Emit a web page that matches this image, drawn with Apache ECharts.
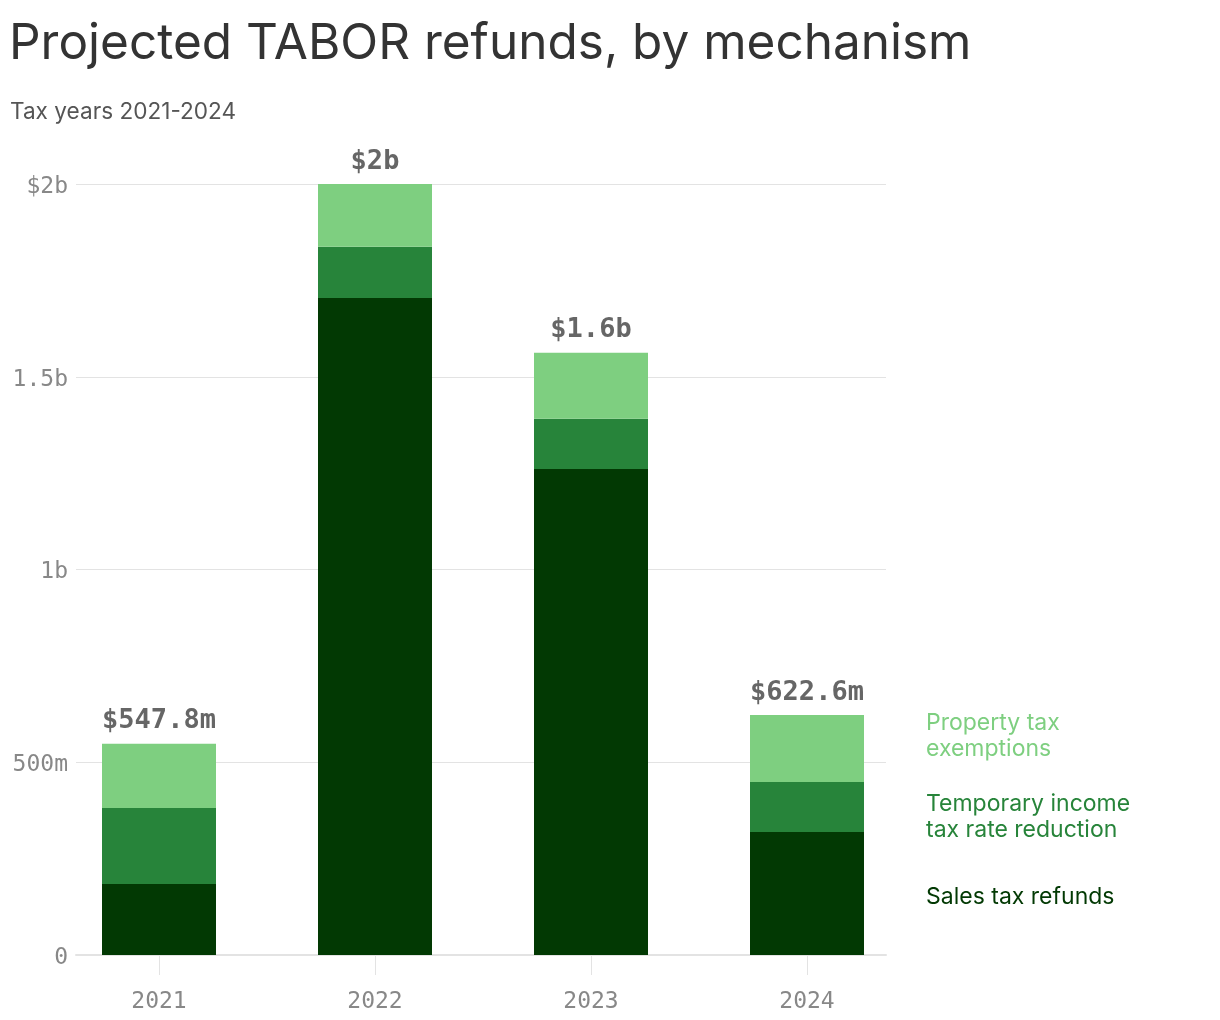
<!DOCTYPE html>
<html><head><meta charset="utf-8">
<script src="https://cdn.jsdelivr.net/npm/echarts@6/dist/echarts.min.js"></script>
<style>html,body{margin:0;padding:0;background:#fff}#c{width:1220px;height:1020px}</style>
</head><body><div id="c"></div>
<script>
const years = ['2021', '2022', '2023', '2024'];
const salesTax = [184, 1704, 1261, 319];
const incomeTax = [197, 133, 130, 130];
const propertyTax = [166.8, 163, 171, 173.6];
const totalLabels = ['$547.8m', '$2b', '$1.6b', '$622.6m'];
const yTickLabels = {0: '0', 500: '500m', 1000: '1b', 1500: '1.5b', 2000: '$2b'};
const seriesNames = ['Sales tax refunds', 'Temporary income\ntax rate reduction', 'Property tax\nexemptions'];
const colors = ['#023903', '#27843a', '#7ecf80'];

const mono = '"DejaVu Sans Mono", monospace';
const sans = 'Inter, "Noto Sans", sans-serif';

const legendOffsets = [[0, 4], [0, 10], [0, -12]];
function legendLabel(sIdx) {
  return {
    show: true,
    position: 'right',
    distance: 62,
    offset: legendOffsets[sIdx],
    color: colors[sIdx],
    fontFamily: sans,
    fontSize: 23,
    lineHeight: 26,
    formatter: (p) => p.dataIndex === years.length - 1 ? seriesNames[sIdx] : ''
  };
}
const base = {type: 'bar', stack: 'all', barWidth: 114, xAxisIndex: 0, yAxisIndex: 0, emphasis: {disabled: true}};
const series = [
  Object.assign({}, base, {name: seriesNames[0], data: salesTax, itemStyle: {color: colors[0]}, label: legendLabel(0)}),
  Object.assign({}, base, {name: seriesNames[1], data: incomeTax, itemStyle: {color: colors[1]}, label: legendLabel(1)}),
  Object.assign({}, base, {name: seriesNames[2], data: propertyTax, itemStyle: {color: colors[2]}, label: legendLabel(2)}),
  Object.assign({}, base, {name: 'total', data: years.map(() => 0), itemStyle: {color: 'transparent'}, silent: true,
   label: {show: true, position: 'top', distance: 9, fontFamily: mono, fontWeight: 'bold', fontSize: 27, color: '#666',
     formatter: (p) => totalLabels[p.dataIndex]}})
];

const chart = echarts.init(document.getElementById('c'));
chart.setOption({
  animation: false,
  title: [
    {text: 'Projected TABOR refunds, by mechanism', left: 4, top: 14,
     textStyle: {fontFamily: sans, fontSize: 49.5, fontWeight: 'normal', color: '#333'}},
    {text: 'Tax years 2021-2024', left: 5, top: 96,
     textStyle: {fontFamily: sans, fontSize: 22.6, fontWeight: 'normal', color: '#555'}}
  ],
  grid: [
    {left: 51, right: 1220 - 915, top: 184, bottom: 65, containLabel: false},
    {left: 76, right: 1220 - 886, top: 184, bottom: 65, containLabel: false}
  ],
  xAxis: [
    {type: 'category', gridIndex: 0, data: years,
     axisLine: {show: false},
     axisTick: {show: true, alignWithLabel: true, length: 20, lineStyle: {color: '#e3e3e3', width: 1}},
     axisLabel: {margin: 36, fontFamily: mono, fontSize: 23, color: '#888'}},
    {type: 'value', gridIndex: 1, min: 0, max: 1,
     splitLine: {show: false}, axisTick: {show: false}, axisLabel: {show: false},
     axisLine: {show: true, lineStyle: {color: '#e3e3e3', width: 2}}}
  ],
  yAxis: [
    {type: 'value', gridIndex: 0, min: 0, max: 2000, show: false, splitLine: {show: false}},
    {type: 'value', gridIndex: 1, min: 0, max: 2000, interval: 500,
     axisLine: {show: false}, axisTick: {show: false},
     splitLine: {lineStyle: {color: '#e3e3e3', width: 1}},
     axisLabel: {margin: 8, fontFamily: mono, fontSize: 23, color: '#888',
       formatter: (v) => '{a|' + yTickLabels[v] + '}',
       rich: {a: {fontFamily: mono, fontSize: 23, color: '#888', padding: [6, 0, 0, 0]}}}}
  ],
  series: series
});
</script></body></html>
